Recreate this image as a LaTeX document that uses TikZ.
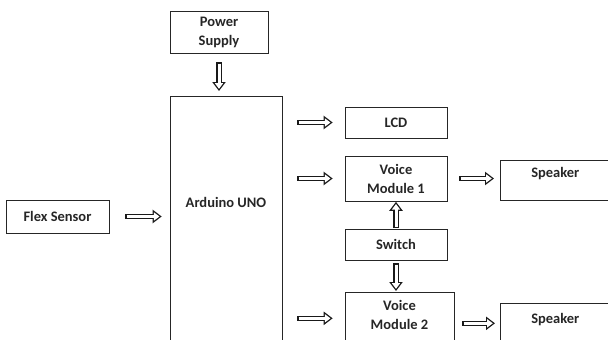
\documentclass[tikz,border=0pt]{standalone}
\usepackage{fontspec}
\setmainfont{Carlito}
\usetikzlibrary{arrows.meta}

\tikzset{
  box/.style={draw=black!85, line width=0.65pt, minimum width=102pt, minimum height=31pt,
    inner sep=0pt, align=center, text=black!85, font=\bfseries\fontsize{14.5}{19}\selectfont},
  lbl/.style={anchor=center, align=center, text=black!85, font=\bfseries\fontsize{14.5}{19}\selectfont},
  blk/.style 2 args={draw=black!90, line width=5.6pt, -{Triangle[length=9pt,width=13pt]},
    shorten <=#1, shorten >=#2,
    postaction={draw=white, line width=3pt, -{Triangle[length=5.6pt,width=8pt]},
      shorten <=#1+1.3pt, shorten >=#2+2.2pt}},
}

\begin{document}
\begin{tikzpicture}[x=1pt, y=-1pt]
  \useasboundingbox (0,0) rectangle (608,340);
  \clip (0,0) rectangle (608,340);

  % blocks
  \node[box, minimum width=98pt, minimum height=42pt] (pwr) at (219,32) {Power\\Supply};
  \node[box, anchor=north, minimum width=112pt, minimum height=260pt,
        label={[lbl, yshift=-106pt]north:Arduino UNO}] (ard) at (226,96) {};
  \node[box, minimum width=103pt, minimum height=33pt] (flex) at (57.5,216.5) {Flex Sensor};
  \node[box] (lcd) at (396,122.5) {LCD};
  \node[box, minimum height=45pt] (vm1) at (396,178.5) {Voice\\Module 1};
  \node[box] (sw) at (396,244.5) {Switch};
  \node[box, anchor=north, minimum width=109pt, minimum height=52pt,
        label={[lbl, yshift=-22.5pt]north:Voice\\Module 2}] (vm2) at (399.5,292) {};
  \node[box, anchor=north west, minimum width=110pt, minimum height=40pt,
        label={[lbl, yshift=-14pt]north:Speaker}] (spk1) at (500,160) {};
  \node[box, anchor=north west, minimum width=110pt, minimum height=40pt,
        label={[lbl, yshift=-17pt]north:Speaker}] (spk2) at (500,303) {};

  % arrows
  \draw[blk={9pt}{5pt}] (pwr.south) -- (pwr.south |- ard.north);
  \draw[blk={16pt}{8pt}] (flex.east) -- (ard.west |- flex.east);
  \draw[blk={15pt}{12pt}] (ard.east |- lcd.west) -- (lcd.west);
  \draw[blk={15pt}{12pt}] (ard.east |- vm1.west) -- (vm1.west);
  \draw[blk={15pt}{12pt}] (ard.east |- vm2.west) -- (vm2.west);
  \draw[blk={12pt}{6pt}] (vm1.east) -- (vm1.east -| spk1.west);
  \draw[blk={8pt}{5pt}] (spk2.west -| vm2.east) -- (spk2.west);
  \draw[blk={0.5pt}{0.5pt}] (sw.north) -- (vm1.south);
  \draw[blk={3pt}{1pt}] (sw.south) -- (sw.south |- vm2.north);
\end{tikzpicture}
\end{document}
